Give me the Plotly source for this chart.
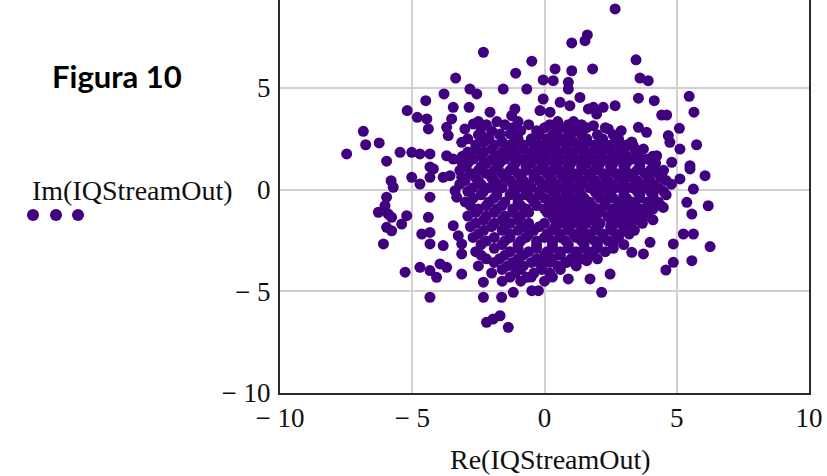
import plotly.graph_objects as go

# ---- data ----
outer_re = [-3.36, -3.80, -4.49, -5.19, -4.81, -4.45, -4.39, -3.45, -3.51, -3.70, -3.64, -3.13,
            -6.85, -6.76, -6.25, -7.48, -5.97, -5.46, -5.02, -4.71, -4.33, -3.70, -3.45, -4.33, -3.13,
            -2.31, -0.48, -1.09, 1.03, 1.53, 1.62, 0.40, 1.03, 1.82, -0.05, 0.33, 0.90, 0.90, -1.56,
            -0.67, -2.82, -2.56, -2.85, -2.06, -1.12, -1.24, -2.69, -3.01, -2.37, -1.68, -1.30, -0.05,
            0.59, -0.17, 0.21, 0.96, 1.34, 1.66,
            2.67, 3.46, 3.61, 3.92, 5.47, 3.55, 4.15, 5.65, 4.43, 4.62, 2.67, 2.22, 1.85, 1.97, 1.85,
            2.41, 3.55, 3.86, 5.10, 4.68, 5.75, 5.12, 4.74, 5.50, 3.36, 3.74, 4.24, 3.49, 4.81,
            -5.80, -5.72, -5.02, -4.71, -4.33, -4.20, -3.83, -3.57, -4.33, -3.38, -3.32, -3.13, -5.97,
            -6.03, -6.28, -5.91, -5.78, -5.97, -5.78, -5.21, -5.40, -6.09, -4.39, -3.45, -3.26, -3.13,
            -3.13, -4.64, -4.33, -4.33, -3.83, -5.27, -4.71, -4.33, -4.08, -3.95, -3.70, -3.13, -4.33,
            -2.31, -1.62, -1.18, -0.48, -0.23, -2.19, -1.94, -1.68, -1.37, -2.31, 0.84, 1.60, 0.90,
            1.72, -0.67, -0.17, -1.05,
            6.07, 5.50, 5.63, 5.12, 5.38, 5.57, 6.19, 4.49, 5.25, 5.63, 4.87, 6.26, 5.57, 4.87, 4.59,
            2.48, 2.16, 3.99, 3.74, 3.30]
outer_im = [5.49, 4.71, 4.38, 3.89, 3.56, 3.48, 2.99, 4.05, 3.48, 3.07, 2.66, 2.33,
            2.87, 2.21, 2.30, 1.76, 1.40, 1.84, 1.84, 1.76, 1.76, 1.67, 1.51, 1.12, 1.36,
            6.76, 6.32, 5.73, 7.22, 7.33, 7.61, 5.94, 5.85, 5.94, 5.40, 5.36, 5.28, 4.95, 4.95,
            4.95, 4.95, 4.71, 4.05, 3.81, 3.97, 3.64, 3.23, 2.99, 2.66, 2.74, 2.74, 4.46,
            4.30, 3.89, 3.81, 4.13, 4.54, 3.97,
            8.89, 6.39, 5.49, 5.36, 4.59, 4.50, 4.38, 3.81, 3.67, 3.67, 4.13, 4.05, 4.05, 3.72, 3.15,
            2.99, 3.07, 2.82, 3.02, 2.66, 2.21, 2.00, 2.33, 1.18, 2.16, 2.00, 1.67, 1.67, 1.35,
            0.44, 0.12, 0.61, 0.28, 0.61, 1.02, 0.61, 0.69, -0.37, -0.05, -0.37, 0.61, -0.37,
            -0.79, -1.11, -1.20, -1.36, -1.85, -2.02, -1.28, -1.69, -2.67, -1.36, -1.77, -2.26, -2.67,
            -3.16, -2.18, -2.10, -2.67, -2.75, -4.06, -3.82, -3.98, -4.31, -3.65, -3.82, -4.15, -5.29,
            -5.29, -5.29, -5.05, -4.97, -4.97, -6.52, -6.36, -6.20, -6.77, -4.55, -3.57, -3.49, -4.39,
            -4.39, -4.31, -3.65, -3.82,
            0.69, 1.02, 0.03, 0.53, -0.62, -1.20, -0.79, -0.87, -2.18, -2.18, -2.67, -2.80, -3.49, -3.57, -3.95,
            -4.15, -5.05, -2.59, -3.16, -3.08]

# dense core, row by row: imaginary part of the row and the real parts in it
core_rows_im = [3.35, 3.2, 3.05, 2.9, 2.7, 2.5, 2.35, 2.2, 2.0, 1.85, 1.65, 1.5, 1.3, 1.15,
                0.95, 0.8, 0.6, 0.45, 0.27, 0.1, -0.08, -0.25, -0.42, -0.6, -0.78, -0.95,
                -1.12, -1.3, -1.48, -1.65, -1.82, -2.0, -2.18, -2.35, -2.52, -2.7, -2.88,
                -3.05, -3.22, -3.4, -3.58, -3.75, -3.92, -4.1, -4.3, -4.5]
core_rows_re = [
    [-2.5, -1.8, -1.0, 0.5, 1.1],
    [-2.2, -1.5, -0.6, 0.2, 0.9, 1.4],
    [-2.4, -1.2, 0.0, 0.8, 1.6, 2.3],
    [-2.0, -0.9, -0.3, 0.5, 1.2, 2.9],
    [-2.5, -1.7, -1.2, -0.2, 0.3, 0.9, 1.4, 2.0, 2.6],
    [-2.9, -2.1, -1.0, -0.5, 0.1, 0.6, 1.0, 1.6, 2.2, 2.8],
    [-2.3, -1.6, -1.1, -0.5, 0.1, 0.5, 1.1, 1.6, 2.2, 2.8, 3.3],
    [-2.6, -1.9, -1.3, -0.8, -0.2, 0.3, 0.8, 1.3, 1.9, 2.5, 3.1],
    [-2.6, -2.0, -1.4, -0.8, -0.3, 0.3, 0.8, 1.4, 1.9, 2.4, 2.9, 3.4],
    [-2.9, -2.3, -1.6, -1.1, -0.5, 0.0, 0.5, 1.1, 1.6, 2.1, 2.6, 3.0],
    [-3.1, -2.4, -1.8, -1.2, -0.6, -0.1, 0.5, 1.0, 1.5, 2.1, 2.6, 3.1, 3.6, 4.1],
    [-2.7, -2.0, -1.5, -0.9, -0.3, 0.2, 0.7, 1.2, 1.8, 2.3, 2.8, 3.3, 3.9],
    [-2.9, -2.2, -1.7, -1.1, -0.5, 0.0, 0.5, 1.0, 1.6, 2.1, 2.6, 3.1, 3.6, 4.2],
    [-3.0, -2.4, -1.8, -1.2, -0.7, -0.1, 0.4, 0.9, 1.4, 2.0, 2.5, 3.0, 3.6, 4.1],
    [-3.2, -2.5, -1.9, -1.3, -0.7, -0.2, 0.3, 0.8, 1.4, 1.9, 2.5, 3.0, 3.5, 4.0, 4.5],
    [-2.8, -2.2, -1.6, -1.0, -0.4, 0.1, 0.6, 1.1, 1.7, 2.2, 2.7, 3.2, 3.8, 4.3],
    [-2.6, -2.0, -1.5, -0.9, -0.4, 0.2, 0.7, 1.2, 1.7, 2.3, 2.8, 3.3, 3.9, 4.4],
    [-3.0, -2.5, -1.9, -1.3, -0.8, -0.2, 0.3, 0.9, 1.4, 1.9, 2.4, 3.0, 3.5, 4.0, 4.6],
    [-3.2, -2.4, -1.8, -1.2, -0.7, -0.1, 0.4, 0.9, 1.4, 2.0, 2.5, 3.0, 3.6, 4.1, 4.8],
    [-2.7, -2.1, -1.6, -1.0, -0.5, 0.1, 0.6, 1.1, 1.7, 2.2, 2.7, 3.3, 3.8, 4.3],
    [-2.9, -2.3, -1.8, -1.2, -0.7, -0.2, 0.3, 0.8, 1.3, 1.9, 2.4, 3.0, 3.5, 4.0, 4.5],
    [-2.4, -1.8, -1.3, -0.7, -0.2, 0.4, 0.9, 1.4, 2.0, 2.5, 3.0, 3.6, 4.1, 4.6],
    [-2.7, -1.9, -1.0, -0.5, 0.0, 0.5, 1.0, 1.5, 2.1, 2.6, 3.1, 3.6, 4.1],
    [-3.0, -2.1, -1.5, -1.0, -0.4, 0.2, 0.7, 1.2, 1.7, 2.3, 2.8, 3.3, 3.9, 4.3],
    [-2.8, -2.2, -1.6, -0.9, -0.3, 0.3, 0.8, 1.3, 1.8, 2.3, 2.9, 3.4, 3.9, 4.4],
    [-2.5, -1.8, -1.2, -0.7, 0.0, 0.5, 1.0, 1.5, 2.0, 2.6, 3.1, 3.6, 4.1],
    [-2.6, -1.9, -1.2, -0.6, 0.1, 0.6, 1.1, 1.6, 2.1, 2.7, 3.2, 3.7],
    [-2.9, -2.2, -1.5, -0.9, 0.3, 0.8, 1.3, 1.8, 2.4, 2.9, 3.4, 3.9],
    [-2.3, -1.6, -1.0, 0.4, 0.9, 1.4, 1.9, 2.5, 3.0, 3.5, 4.1],
    [-2.6, -1.9, -1.3, -0.6, 0.0, 0.6, 1.1, 1.6, 2.1, 2.7, 3.2, 3.7],
    [-2.8, -2.0, -1.5, -0.8, -0.2, 0.4, 0.9, 1.4, 2.0, 2.5, 3.0],
    [-2.3, -1.6, -1.0, -0.4, 0.3, 0.9, 1.4, 1.9, 2.5, 3.0, 3.4],
    [-2.5, -1.3, -0.6, 0.1, 0.6, 1.1, 1.6, 2.2, 2.7, 3.2],
    [-2.7, -1.9, -1.3, -0.7, 0.0, 0.6, 1.2, 1.7, 2.2, 2.8],
    [-2.2, -1.5, -0.9, -0.3, 0.3, 0.8, 1.4, 1.9, 2.4],
    [-2.4, -1.6, -1.0, -0.3, 0.3, 0.9, 1.5, 2.0, 2.6, 3.0],
    [-1.9, -1.0, -0.3, 0.3, 0.9, 1.5, 2.0, 2.6],
    [-2.6, -1.3, -0.6, 0.1, 0.6, 1.2, 1.8, 2.3],
    [-2.4, -1.5, -0.8, 0.0, 0.6, 1.2, 1.7],
    [-2.2, -1.7, -1.0, -0.3, 0.3, 1.0, 1.4, 2.0],
    [-1.9, -1.2, -0.5, 0.2, 0.8],
    [-2.5, -1.4, -0.8, -0.1, 0.5, 1.2],
    [-1.6, -0.9, -0.1, 0.6],
    [-2.0, -1.1, -0.4, 0.2],
    [-1.3, -0.5, 0.3],
    [-1.6, -0.9, 0.0],
]

x_tickvals = [-10, -5, 0, 5, 10]
x_ticktext = ["\u2212 10", "\u2212 5", "0", "5", "10"]
y_tickvals = [-10, -5, 0, 5, 10]
y_ticktext = ["\u2212 10", "\u2212 5", "0", "5", "10"]

re_all = list(outer_re)
im_all = list(outer_im)
for yv, xs in zip(core_rows_im, core_rows_re):
    re_all.extend(xs)
    im_all.extend([yv] * len(xs))

PURPLE = "#400080"
SERIF = "Liberation Serif, Times New Roman, serif"

fig = go.Figure()
fig.add_trace(go.Scatter(x=re_all, y=im_all, mode="markers",
                         marker=dict(color=PURPLE, size=11, line=dict(width=0)),
                         showlegend=False, hoverinfo="skip"))

W, H = 827, 476
L, R, T, B = 280, 18, 0, 83
pw, ph = W - L - R, H - T - B


def px(xp):
    return (xp - L) / pw


def py(yp):
    return (H - B - yp) / ph


axis_common = dict(showgrid=True, gridcolor="#d2d2d2", gridwidth=2, zeroline=False,
                   showline=True, linecolor="#2a2a2a", linewidth=2, ticks="",
                   tickfont=dict(family=SERIF, size=27, color="#111111"))

fig.update_layout(
    width=W, height=H, margin=dict(l=L, r=R, t=T, b=B),
    paper_bgcolor="white", plot_bgcolor="white",
    xaxis=dict(range=[-10, 10], tickmode="array", tickvals=x_tickvals, ticktext=x_ticktext,
               mirror=False, **axis_common),
    yaxis=dict(range=[-10, 9.33], tickmode="array", tickvals=y_tickvals, ticktext=y_ticktext,
               mirror=True, ticklabelstandoff=2, **axis_common),
    annotations=[
        dict(text="Re(IQStreamOut)", x=px(550), y=py(459), xref="paper", yref="paper",
             showarrow=False, xanchor="center", yanchor="middle",
             font=dict(family=SERIF, size=28, color="#111111")),
        dict(text="Im(IQStreamOut)", x=px(30), y=py(190), xref="paper", yref="paper",
             showarrow=False, xanchor="left", yanchor="middle",
             font=dict(family=SERIF, size=28, color="#111111")),
        dict(text="<b>Figura 10</b>", x=px(184), y=py(76), xref="paper", yref="paper",
             showarrow=False, xanchor="right", yanchor="middle",
             font=dict(family="Lato, Liberation Sans, sans-serif", size=31, color="#000000")),
    ],
)

for cx in (33, 56, 78):
    fig.add_shape(type="circle", xref="paper", yref="paper", xsizemode="pixel", ysizemode="pixel",
                  xanchor=px(cx), yanchor=py(215), x0=-6, x1=6, y0=-6, y1=6,
                  fillcolor=PURPLE, line=dict(width=0))

fig.write_html("out.html")
